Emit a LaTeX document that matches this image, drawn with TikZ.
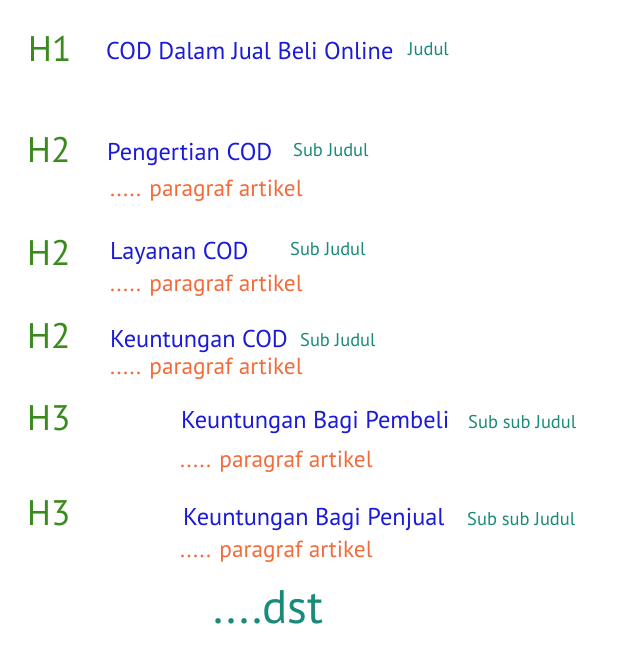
\documentclass[tikz,border=0pt]{standalone}
\usepackage{fontspec}
\setmainfont{PT Sans}
\usepackage{tikz}
\usetikzlibrary{positioning}

\definecolor{hgreen}{HTML}{3A8A1E}
\definecolor{tblue}{HTML}{1A1AD8}
\definecolor{tteal}{HTML}{1A8A7A}
\definecolor{porange}{HTML}{F26B3A}

\tikzset{
  level/.style={anchor=base west, inner sep=0pt, text=hgreen, font=\fontsize{35.5}{36}\selectfont},
  judul/.style={anchor=base west, inner sep=0pt, text=tblue, font=\fontsize{24.3}{24}\selectfont},
  tag/.style={anchor=base west, inner sep=0pt, text=tteal, font=\fontsize{18.5}{18}\selectfont},
  isi/.style={anchor=base west, inner sep=0pt, text=porange, font=\fontsize{23.3}{24}\selectfont}
}

\begin{document}
\begin{tikzpicture}[x=1pt, y=-1pt]
\useasboundingbox (0,0) rectangle (628,650);

\node[level] (h1) at (28,62) {H1};
\node[judul] (cod) at (106,60) {COD Dalam Jual Beli Online};
\node[tag] (tcod) at (408,56) {Judul};

\node[level] (h2a) at (27,162) {H2};
\node[judul] (pengertian) at (107,160) {Pengertian COD};
\node[tag] (tpengertian) at (293,156) {Sub Judul};
\node[isi] (ppengertian) at (110,196) {..... paragraf artikel};

\node[level] (h2b) at (27,265) {H2};
\node[judul] (layanan) at (110,259) {Layanan COD};
\node[tag] (tlayanan) at (290,255) {Sub Judul};
\node[isi] (playanan) at (110,291) {..... paragraf artikel};

\node[level] (h2c) at (27,348) {H2};
\node[judul] (untung) at (110,347) {Keuntungan COD};
\node[tag] (tuntung) at (300,346) {Sub Judul};
\node[isi] (puntung) at (110,374) {..... paragraf artikel};

\node[level] (h3a) at (27,430) {H3};
\node[judul] (pembeli) at (181,428) {Keuntungan Bagi Pembeli};
\node[tag] (tpembeli) at (468,428) {Sub sub Judul};
\node[isi] (ppembeli) at (180,467) {..... paragraf artikel};

\node[level] (h3b) at (27,525) {H3};
\node[judul] (penjual) at (183,525) {Keuntungan Bagi Penjual};
\node[tag] (tpenjual) at (467,525) {Sub sub Judul};
\node[isi] (ppenjual) at (180,557) {..... paragraf artikel};

\node[anchor=base west, inner sep=0pt, text=tteal, font=\fontsize{47}{48}\selectfont] (dst) at (213,623) {....dst};
\end{tikzpicture}
\end{document}
